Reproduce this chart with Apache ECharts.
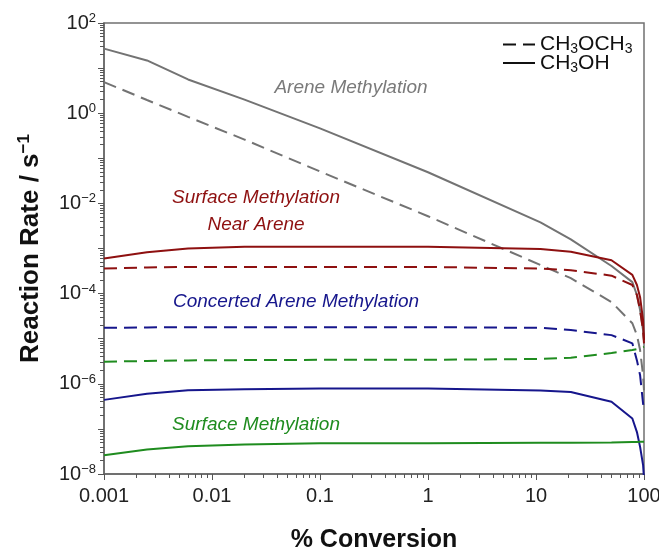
<!DOCTYPE html>
<html>
<head>
<meta charset="utf-8">
<script src="https://cdn.jsdelivr.net/npm/echarts@6/dist/echarts.min.js"></script>
<style>
  html, body { margin: 0; padding: 0; background: #fff; }
  #chart { width: 659px; height: 554px; }
</style>
</head>
<body>
<div id="chart"></div>
<script>
// % conversion points shared by every curve
const conversion = [0.001, 0.0025, 0.006, 0.02, 0.1, 1, 11, 21, 50, 78, 86, 92, 98, 100];

// rates, s^-1
const areneOH = [27, 14.8, 5.6, 2.0, 0.46, 0.049, 3.8e-3, 1.6e-3, 4.1e-4, 1.8e-4, 9.3e-5, 4.3e-5, 1.55e-5, 9.3e-6];
const areneDME = [4.9, 1.96, 0.83, 0.26, 0.051, 5.2e-3, 4.3e-4, 2.2e-4, 6.5e-5, 2.2e-5, 1.2e-5, 5.6e-6, 1.55e-6, 7.2e-7];
const nearAreneOH = [6.0e-4, 8.3e-4, 1.0e-3, 1.1e-3, 1.1e-3, 1.1e-3, 9.8e-4, 8.5e-4, 5.5e-4, 2.6e-4, 1.55e-4, 8.3e-5, 2.6e-5, 9.3e-6];
const nearAreneDME = [3.6e-4, 3.8e-4, 3.9e-4, 3.9e-4, 3.9e-4, 3.9e-4, 3.6e-4, 3.3e-4, 2.5e-4, 1.55e-4, 9.3e-5, 4.3e-5, 1.55e-5, 7.9e-6];
const concertedOH = [4.4e-7, 6.0e-7, 7.2e-7, 7.6e-7, 7.9e-7, 7.9e-7, 7.1e-7, 6.6e-7, 4.0e-7, 1.7e-7, 8.5e-8, 4.0e-8, 1.6e-8, 8e-9];
const concertedDME = [1.74e-5, 1.78e-5, 1.8e-5, 1.8e-5, 1.8e-5, 1.8e-5, 1.74e-5, 1.55e-5, 1.2e-5, 7.9e-6, 3.3e-6, 1.55e-6, 3.7e-7, 2.6e-7];
const surfaceOH = [2.6e-8, 3.5e-8, 4.1e-8, 4.5e-8, 4.8e-8, 4.8e-8, 4.9e-8, 4.9e-8, 5.0e-8, 5.1e-8, 5.1e-8, 5.2e-8, 5.2e-8, 5.2e-8];
const surfaceDME = [3.1e-6, 3.2e-6, 3.3e-6, 3.35e-6, 3.4e-6, 3.4e-6, 3.55e-6, 3.8e-6, 4.8e-6, 5.6e-6, 5.9e-6, 6.2e-6, 6.5e-6, 6.6e-6];

// ticks
const xMajor = [0.001, 0.01, 0.1, 1, 10, 100];
const yMajor = [1e-8, 1e-7, 1e-6, 1e-5, 1e-4, 1e-3, 1e-2, 1e-1, 1, 10, 100];
const yLabels = [1e-8, 1e-6, 1e-4, 1e-2, 1, 100];
const minorSteps = [2, 3, 4, 5, 6, 7, 8, 9];

const FONT = '"Liberation Sans", Arial, sans-serif';
const GREY = "#737373";
const RED = "#8e1010";
const BLUE = "#16168c";
const GREEN = "#1f8c1f";
const DASH = [13, 7];

function minorTicks(decades) {
  const out = [];
  decades.forEach((d) => minorSteps.forEach((k) => out.push(k * d)));
  return out;
}

function pairs(values) {
  return conversion.map((x, i) => [x, values[i]]);
}

function powLabel(value) {
  const exp = Math.round(Math.log10(value));
  const txt = exp < 0 ? "\u2212" + -exp : String(exp);
  return "10{sup|" + txt + "}";
}

function curve(name, values, color, dashed) {
  return {
    name: name,
    type: "line",
    data: pairs(values),
    symbol: "none",
    showSymbol: false,
    lineStyle: { color: color, width: 2, type: dashed ? DASH : "solid" },
    itemStyle: { color: color },
    z: 3
  };
}

function legendSeries(name, dashed) {
  return {
    name: name,
    type: "line",
    data: [],
    symbol: "none",
    lineStyle: { color: "#111", width: 3, type: dashed ? DASH : "solid" },
    itemStyle: { color: "#111" }
  };
}

const chart = echarts.init(document.getElementById("chart"));

chart.setOption({
  backgroundColor: "#fff",
  animation: false,
  grid: {
    left: 104,
    right: 15,
    top: 23,
    bottom: 80,
    outerBoundsMode: "none",
    containLabel: false,
    show: true,
    borderColor: "#707070",
    borderWidth: 1.5
  },
  legend: {
    data: ["CH3OCH3", "CH3OH"],
    orient: "vertical",
    left: 502,
    top: 34,
    padding: 0,
    itemWidth: 32,
    itemHeight: 12,
    itemGap: -4,
    itemStyle: { opacity: 0 },
    formatter: (name) => name.replace(/3/g, "{sub|3}"),
    textStyle: {
      fontSize: 21,
      color: "#111",
      fontFamily: FONT,
      rich: { sub: { fontSize: 14, padding: [10, 0, 0, 0], fontFamily: FONT, color: "#111" } }
    }
  },
  xAxis: [
    {
      type: "log",
      logBase: 10,
      min: 0.001,
      max: 100,
      name: "% Conversion",
      nameLocation: "middle",
      nameGap: 54,
      nameTextStyle: { fontSize: 25, fontWeight: "bold", color: "#111", fontFamily: FONT },
      axisLine: { show: true, lineStyle: { color: "#666", width: 1.5 } },
      axisTick: { show: true, length: 6, customValues: xMajor, lineStyle: { color: "#555" } },
      axisLabel: {
        customValues: xMajor,
        formatter: (v) => String(+Number(v).toPrecision(3)),
        fontSize: 20,
        margin: 12,
        color: "#222",
        fontFamily: FONT
      },
      splitLine: { show: false },
      minorTick: { show: false }
    },
    {
      type: "log",
      logBase: 10,
      min: 0.001,
      max: 100,
      position: "bottom",
      axisLine: { show: false },
      axisTick: { show: true, length: 4, customValues: minorTicks([0.001, 0.01, 0.1, 1, 10]), lineStyle: { color: "#555" } },
      axisLabel: { show: false },
      splitLine: { show: false }
    }
  ],
  yAxis: [
    {
      type: "log",
      logBase: 10,
      min: 1e-8,
      max: 100,
      name: "Reaction Rate / s{sup|\u22121}",
      nameLocation: "middle",
      nameGap: 58,
      nameTextStyle: {
        fontSize: 26,
        fontWeight: "bold",
        color: "#111",
        fontFamily: FONT,
        lineHeight: 30,
        rich: { sup: { fontSize: 17, fontWeight: "bold", lineHeight: 16, verticalAlign: "top", fontFamily: FONT } }
      },
      axisLine: { show: true, lineStyle: { color: "#666", width: 1.5 } },
      axisTick: { show: true, length: 6, customValues: yMajor, lineStyle: { color: "#555" } },
      axisLabel: {
        customValues: yLabels,
        formatter: powLabel,
        fontSize: 20,
        lineHeight: 22,
        margin: 8,
        color: "#222",
        fontFamily: FONT,
        rich: { sup: { fontSize: 13, lineHeight: 12, verticalAlign: "top", fontFamily: FONT, color: "#222" } }
      },
      splitLine: { show: false },
      minorTick: { show: false }
    },
    {
      type: "log",
      logBase: 10,
      min: 1e-8,
      max: 100,
      position: "left",
      axisLine: { show: false },
      axisTick: {
        show: true,
        length: 4,
        customValues: minorTicks([1e-8, 1e-7, 1e-6, 1e-5, 1e-4, 1e-3, 1e-2, 1e-1, 1, 10]),
        lineStyle: { color: "#555" }
      },
      axisLabel: { show: false },
      splitLine: { show: false }
    }
  ],
  graphic: [
    { type: "text", x: 351, y: 88, style: { text: "Arene Methylation", fill: "#7a7a7a", fontSize: 19, fontStyle: "italic", fontFamily: FONT, align: "center", verticalAlign: "middle" } },
    { type: "text", x: 256, y: 198, style: { text: "Surface Methylation", fill: RED, fontSize: 19, fontStyle: "italic", fontFamily: FONT, align: "center", verticalAlign: "middle" } },
    { type: "text", x: 256, y: 225, style: { text: "Near Arene", fill: RED, fontSize: 19, fontStyle: "italic", fontFamily: FONT, align: "center", verticalAlign: "middle" } },
    { type: "text", x: 296, y: 302, style: { text: "Concerted Arene Methylation", fill: BLUE, fontSize: 19, fontStyle: "italic", fontFamily: FONT, align: "center", verticalAlign: "middle" } },
    { type: "text", x: 256, y: 425, style: { text: "Surface Methylation", fill: GREEN, fontSize: 19, fontStyle: "italic", fontFamily: FONT, align: "center", verticalAlign: "middle" } }
  ],
  series: [
    curve("Arene Methylation CH3OH", areneOH, GREY, false),
    curve("Arene Methylation CH3OCH3", areneDME, GREY, true),
    curve("Surface Methylation Near Arene CH3OH", nearAreneOH, RED, false),
    curve("Surface Methylation Near Arene CH3OCH3", nearAreneDME, RED, true),
    curve("Concerted Arene Methylation CH3OCH3", concertedDME, BLUE, true),
    curve("Surface Methylation CH3OCH3", surfaceDME, GREEN, true),
    curve("Concerted Arene Methylation CH3OH", concertedOH, BLUE, false),
    curve("Surface Methylation CH3OH", surfaceOH, GREEN, false),
    legendSeries("CH3OCH3", true),
    legendSeries("CH3OH", false)
  ]
});
</script>
</body>
</html>
